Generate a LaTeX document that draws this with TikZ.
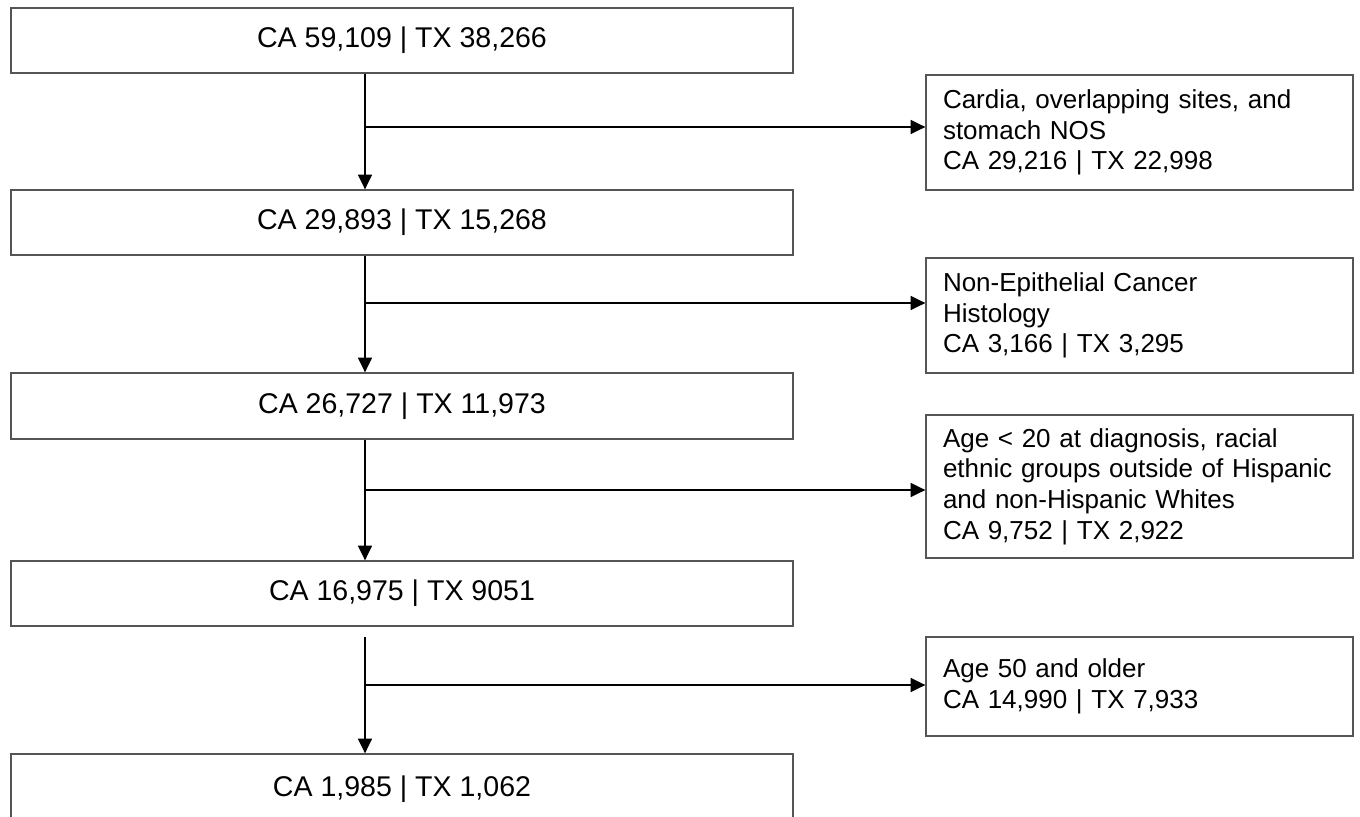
\documentclass[tikz,border=0pt]{standalone}
\usepackage{fontspec}
\setmainfont{Liberation Sans}
\usetikzlibrary{arrows.meta,calc,positioning}
\definecolor{Ink}{HTML}{000000}
\definecolor{Edge}{HTML}{555555}

\begin{document}
\begin{tikzpicture}[x=0.75pt,y=0.75pt,
    stepbox/.style={draw=Edge,line width=1pt,fill=white,minimum width=586.5pt,
      inner sep=0pt,font=\fontsize{21.4}{25}\selectfont,text=Ink},
    sidebox/.style={draw=Edge,line width=1pt,fill=white,text width=294.75pt,
      inner xsep=12.75pt,align=left,font=\fontsize{19.5}{23}\selectfont,text=Ink},
    flow/.style={draw=Ink,line width=1.1pt,-{Triangle[length=11pt,width=10.5pt]}}]
  \useasboundingbox (0,0) rectangle (1360,-817);
  \coordinate (spine) at (365,0);
  % main column
  \foreach \n/\y/\h/\txt in {
    1/40.5/65/{CA 59,109 | TX 38,266},
    2/222.5/65/{CA 29,893 | TX 15,268},
    3/406/66/{CA 26,727 | TX 11,973},
    4/593.5/65/{CA 16,975 | TX 9051},
    5/789/70/{CA 1,985 | TX 1,062}}{
    \node[stepbox,minimum height=\h*0.75pt] (m\n) at (402,-\y) {\txt};
  }
  % exclusions
  \foreach \n/\y/\h/\dy/\txt in {
    1/132.5/115/5.5/{Cardia, overlapping sites, and\\stomach NOS\\CA 29,216 | TX 22,998},
    2/315.5/115/12.5/{Non-Epithelial Cancer\\Histology\\CA 3,166 | TX 3,295},
    3/486.5/143/-3.5/{Age < 20 at diagnosis, racial\\ethnic groups outside of Hispanic\\and non-Hispanic Whites\\CA 9,752 | TX 2,922},
    4/686.5/99/1.5/{Age 50 and older\\CA 14,990 | TX 7,933}}{
    \node[sidebox,minimum height=\h*0.75pt] (s\n) at (1139.5,-\y) {\txt};
    \coordinate (t\n) at ($(s\n.west)+(0,\dy)$);
  }
  \foreach \a/\b in {1/2,2/3,3/4}
    \draw[flow] (m\a.south -| spine) -- (m\b.north -| spine);
  \draw[flow,shorten <=8pt] (m4.south -| spine) -- (m5.north -| spine);
  \foreach \n in {1,...,4}
    \draw[flow] (spine |- t\n) -- (t\n);
\end{tikzpicture}
\end{document}
